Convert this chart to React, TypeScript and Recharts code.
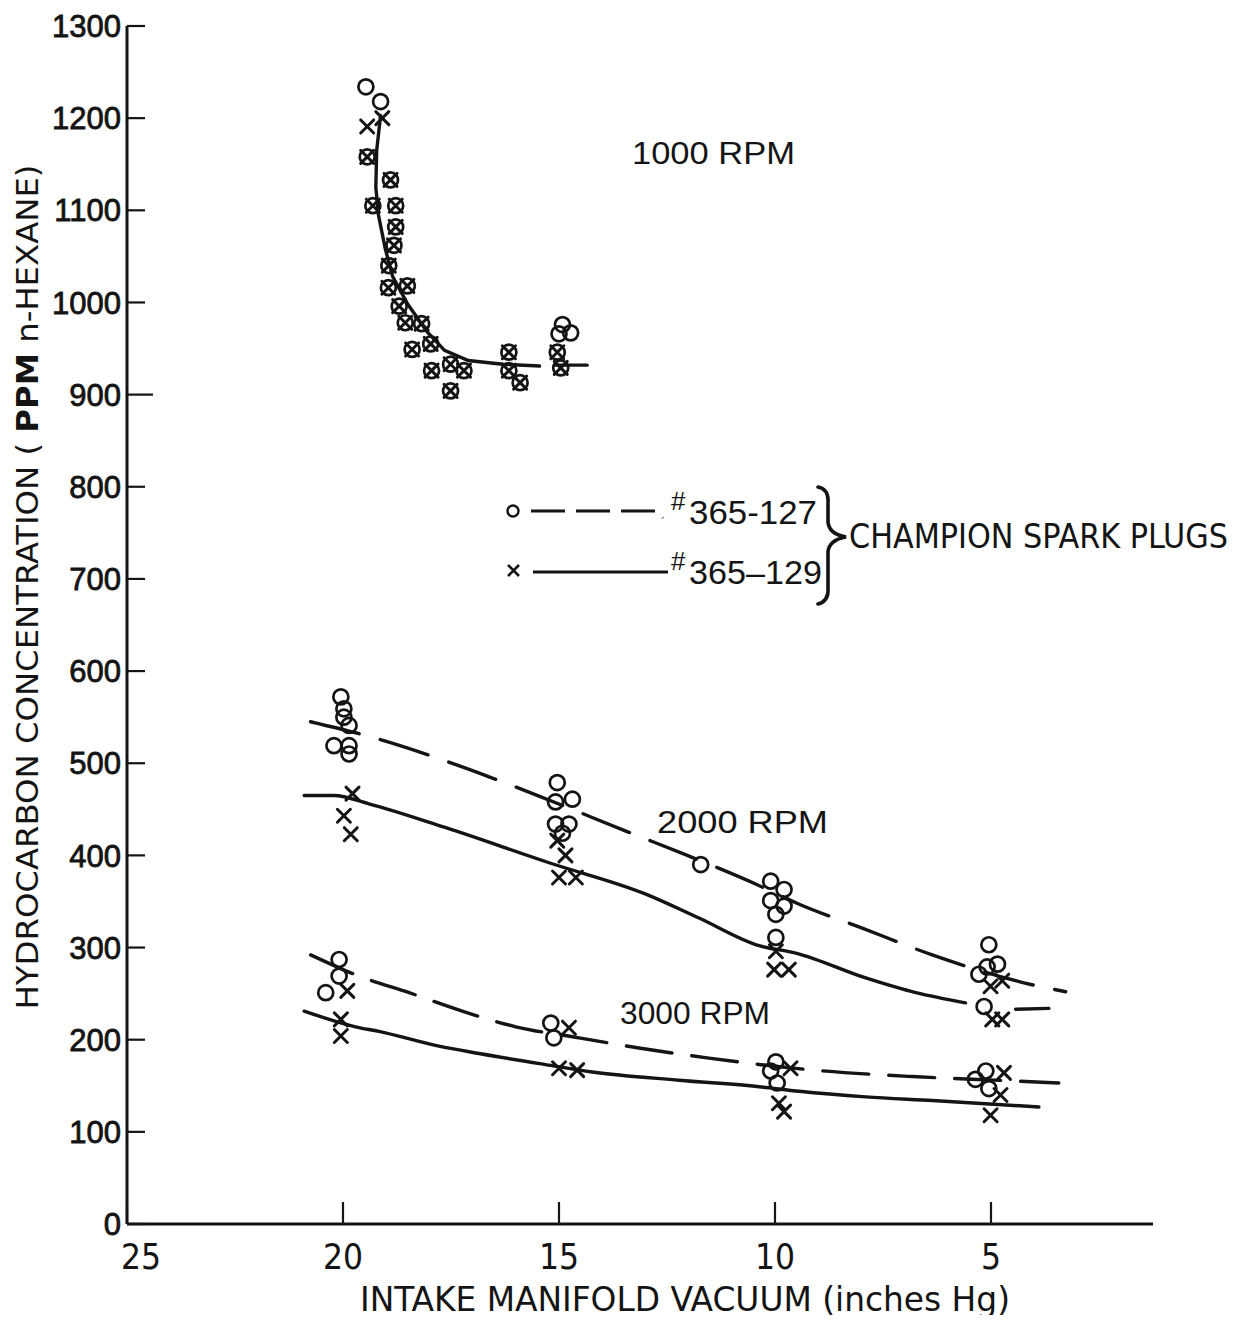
import { ComposedChart, Line, Scatter, XAxis, YAxis } from "recharts";

// inches Hg (x) vs ppm n-hexane (y)
type Pt = { x: number; y: number };
const pts = (rows: number[][]): Pt[] => rows.map(([x, y]) => ({ x, y }));

const xTicks = [25, 20, 15, 10, 5];
const yTicks = [0, 100, 200, 300, 400, 500, 600, 700, 800, 900, 1000, 1100, 1200, 1300];

// 1000 RPM — the two plugs overlap almost everywhere
const rpm1000Plug127 = pts([
  [19.47, 1234], [19.13, 1218], [14.92, 976], [14.73, 967], [15.0, 966],
]);
const rpm1000Plug129 = pts([[19.44, 1191], [19.09, 1200]]);
const rpm1000Both = pts([
  [19.44, 1158], [18.9, 1133], [19.31, 1105], [18.78, 1105], [18.78, 1082],
  [18.82, 1062], [18.94, 1040], [18.95, 1016], [18.51, 1018], [18.7, 996],
  [18.56, 978], [18.18, 977], [18.4, 949], [17.97, 955], [17.95, 926],
  [17.51, 933], [17.2, 926], [17.51, 904], [16.16, 946], [16.16, 926],
  [15.9, 913], [15.04, 946], [14.96, 929],
]);

// 2000 RPM
const rpm2000Plug127 = pts([
  [20.05, 572], [19.98, 559], [19.98, 550], [19.86, 541], [20.21, 519], [19.86, 519], [19.86, 510],
  [15.04, 479], [14.69, 461], [15.08, 458], [15.08, 434], [14.77, 434], [14.92, 424],
  [11.72, 390],
  [10.1, 372], [9.79, 363], [10.1, 351], [9.79, 345], [9.98, 336], [9.98, 311],
  [5.05, 303], [4.85, 282], [5.09, 279], [5.28, 271], [5.16, 236],
]);
const rpm2000Plug129 = pts([
  [19.78, 467], [19.98, 443], [19.82, 423],
  [15.04, 416], [14.85, 400], [15.0, 376], [14.61, 376],
  [9.98, 296], [10.02, 276], [9.68, 276],
  [5.01, 258], [4.74, 264], [4.97, 222], [4.74, 222],
]);

// 3000 RPM
const rpm3000Plug127 = pts([
  [20.09, 287], [20.09, 269], [20.4, 251],
  [15.19, 218], [15.12, 202],
  [9.98, 176], [10.1, 166], [9.95, 153],
  [5.36, 157], [5.12, 166], [5.05, 147],
]);
const rpm3000Plug129 = pts([
  [19.9, 253], [20.05, 222], [20.05, 204],
  [14.77, 213], [15.0, 169], [14.58, 167],
  [9.64, 169], [9.91, 131], [9.79, 122],
  [4.7, 164], [4.78, 140], [5.01, 118],
]);

// hand-drawn fitted curves
const curve1000 = pts([
  [19.13, 1203], [19.22, 1165], [19.24, 1125], [19.18, 1095], [19.02, 1058],
  [18.85, 1028], [18.5, 998], [18.05, 968], [17.65, 948], [17.1, 937],
  [16.3, 933], [15.45, 931],
]);
const curve1000Tail = pts([[15.08, 932], [14.35, 932]]);
const curve2000Plug127 = pts([
  [20.75, 545], [18.94, 523], [17.24, 496], [15.39, 463], [13.38, 425], [12.03, 400],
  [10.45, 369], [9.44, 347], [7.98, 321], [6.36, 292], [4.35, 263], [3.27, 252],
]);
const curve2000Plug129 = pts([
  [20.9, 465], [20.21, 465], [19.4, 456], [17.62, 430], [15.23, 392], [12.99, 358],
  [11.76, 332], [10.37, 302], [9.52, 294], [7.9, 267], [6.74, 251], [5.59, 240],
]);
const curve2000Plug129Tail = pts([[4.43, 233], [3.66, 234]]);
const curve3000Plug127 = pts([
  [20.75, 292], [19.63, 269], [18.47, 251], [17.24, 231], [16.0, 214], [14.54, 202],
  [13.15, 191], [11.53, 180], [9.1, 167], [6.82, 160], [4.35, 155], [3.43, 153],
]);
const curve3000Plug129 = pts([
  [20.9, 231], [19.71, 214], [19.17, 209], [17.78, 193], [16.85, 185], [15.31, 173],
  [14.23, 165], [12.22, 156], [10.37, 149], [9.44, 144], [7.9, 138], [6.36, 134], [3.89, 127],
]);

const circlePoints = [...rpm1000Plug127, ...rpm1000Both, ...rpm2000Plug127, ...rpm3000Plug127];
const crossPoints = [...rpm1000Plug129, ...rpm1000Both, ...rpm2000Plug129, ...rpm3000Plug129];

const INK = "#141414";
const SANS = "'Liberation Sans', Arial, sans-serif";
const NARROW = "'Liberation Sans Narrow', 'DejaVu Sans Condensed', sans-serif";

const CircleMark = (p: any) => (
  <circle cx={p.cx} cy={p.cy} r={7.5} fill="none" stroke={INK} strokeWidth={2.7} />
);

const CrossMark = (p: any) => {
  const s = 6.5;
  return (
    <path
      d={`M${p.cx - s},${p.cy - s}L${p.cx + s},${p.cy + s}M${p.cx + s},${p.cy - s}L${p.cx - s},${p.cy + s}`}
      stroke={INK}
      strokeWidth={3}
      strokeLinecap="round"
    />
  );
};

const YTick = ({ x, y, payload }: any) => {
  const len = payload.value === 900 ? 26 : 18;
  return (
    <g>
      <line x1={x} x2={x + len} y1={y} y2={y} stroke={INK} strokeWidth={2.2} />
      <text x={x - 6} y={y} dy="0.36em" textAnchor="end" fontFamily={SANS} fontSize={31}
        fill={INK} stroke={INK} strokeWidth={0.8}>
        {payload.value}
      </text>
    </g>
  );
};

const XTick = ({ x, y, payload }: any) => {
  const dx = payload.value === 25 ? 14 : 0;
  return (
    <g>
      <line x1={x} x2={x} y1={y} y2={y - 22} stroke={INK} strokeWidth={2.2} />
      <text x={x + dx} y={y + 45} textAnchor="middle" fontFamily={NARROW} fontSize={35} fill={INK}>
        {payload.value}
      </text>
    </g>
  );
};

function Annotations() {
  const t = { fontFamily: SANS, fill: INK, lengthAdjust: "spacingAndGlyphs" as const };
  return (
    <svg
      width={1245}
      height={1323}
      style={{ position: "absolute", left: 0, top: 0, pointerEvents: "none" }}
    >
      <text transform="translate(38,587) rotate(-90)" textAnchor="middle" fontFamily={NARROW}
        fontSize={31} fill={INK} textLength={845} lengthAdjust="spacingAndGlyphs">
        HYDROCARBON CONCENTRATION ( <tspan fontWeight="bold">PPM</tspan> n-HEXANE)
      </text>
      <text x={360} y={1311} fontFamily={NARROW} fontSize={34} fill={INK} textLength={650}
        lengthAdjust="spacingAndGlyphs">
        INTAKE MANIFOLD VACUUM (inches Hg)
      </text>

      <text x={632} y={164} fontSize={32} textLength={163} {...t}>1000 RPM</text>
      <text x={657} y={833} fontSize={32} textLength={171} {...t}>2000 RPM</text>
      <text x={620} y={1024} fontSize={32} textLength={150} {...t}>3000 RPM</text>

      {/* legend */}
      <circle cx={513} cy={511} r={5.5} fill="none" stroke={INK} strokeWidth={2.4} />
      <path d="M531,511H658l5,7" fill="none" stroke={INK} strokeWidth={3.2} strokeDasharray="34 11" />
      <path d="M508,565L519,576M519,565L508,576" stroke={INK} strokeWidth={2.6} />
      <path d="M533,572H668" stroke={INK} strokeWidth={3.2} />
      <text x={671} y={510} fontSize={26} {...t}>#</text>
      <text x={689} y={524} fontSize={33} textLength={128} {...t}>365-127</text>
      <text x={671} y={570} fontSize={26} {...t}>#</text>
      <text x={689} y={584} fontSize={33} textLength={133} {...t}>365–129</text>
      <path
        d="M818,487Q829,489 828,503L828,522Q829,534 846,537Q829,540 828,552L828,588Q829,601 818,604"
        fill="none" stroke={INK} strokeWidth={3.6} strokeLinecap="round"
      />
      <text x={849} y={548} fontFamily={NARROW} fontSize={34} fill={INK} textLength={379}
        lengthAdjust="spacingAndGlyphs">CHAMPION SPARK PLUGS</text>
    </svg>
  );
}

export default function App() {
  const lineProps = {
    dataKey: "y",
    stroke: INK,
    strokeWidth: 3.4,
    dot: false,
    activeDot: false,
    isAnimationActive: false,
    strokeLinecap: "round" as const,
  };
  return (
    <div style={{ position: "relative", width: 1245, height: 1323, margin: -8, overflow: "hidden", background: "#fff" }}>
      <ComposedChart width={1245} height={1323} margin={{ top: 26, right: 92, bottom: 0, left: 0 }}>
        <XAxis
          type="number"
          dataKey="x"
          domain={[1.25, 25]}
          reversed
          ticks={xTicks}
          interval={0}
          height={99}
          tickSize={0}
          tickMargin={0}
          tickLine={false}
          axisLine={{ stroke: INK, strokeWidth: 3 }}
          tick={<XTick />}
          allowDataOverflow
        />
        <YAxis
          type="number"
          dataKey="y"
          domain={[0, 1300]}
          ticks={yTicks}
          interval={0}
          width={127}
          tickSize={0}
          tickMargin={0}
          tickLine={false}
          axisLine={{ stroke: INK, strokeWidth: 3 }}
          tick={<YTick />}
          allowDataOverflow
        />
        <Line {...lineProps} data={curve1000} type="linear" />
        <Line {...lineProps} data={curve1000Tail} type="linear" />
        <Line {...lineProps} data={curve2000Plug127} type="monotone" strokeDasharray="50 22" />
        <Line {...lineProps} data={curve2000Plug129} type="monotone" />
        <Line {...lineProps} data={curve2000Plug129Tail} type="linear" />
        <Line {...lineProps} data={curve3000Plug127} type="monotone" strokeDasharray="46 20" />
        <Line {...lineProps} data={curve3000Plug129} type="monotone" />
        <Scatter data={circlePoints} shape={CircleMark} isAnimationActive={false} />
        <Scatter data={crossPoints} shape={CrossMark} isAnimationActive={false} />
      </ComposedChart>
      <Annotations />
    </div>
  );
}
